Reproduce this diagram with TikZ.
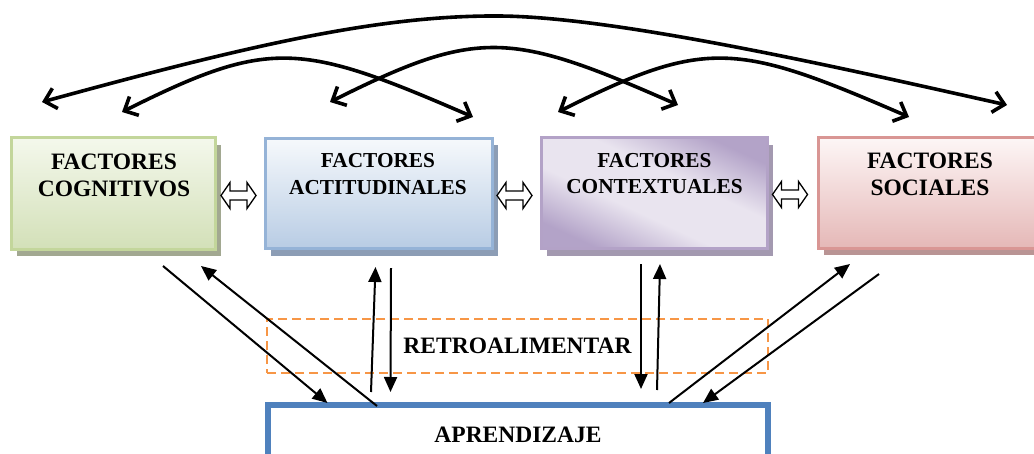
\documentclass[tikz,border=0pt]{standalone}
\usepackage{fontspec}
\setmainfont{Liberation Serif}
\usetikzlibrary{arrows.meta,shadows}

% box colours
\definecolor{grnline}{HTML}{C3D69B}
\definecolor{grntop}{HTML}{F4F8EC}
\definecolor{grnbot}{HTML}{D3E0B8}
\definecolor{grnshadow}{HTML}{A2A891}
\definecolor{bluline}{HTML}{95B3D7}
\definecolor{blutop}{HTML}{F6F9FC}
\definecolor{blubot}{HTML}{B8CCE4}
\definecolor{blushadow}{HTML}{8C9DB5}
\definecolor{purline}{HTML}{B3A2C7}
\definecolor{purdark}{HTML}{B3A3C8}
\definecolor{purlight}{HTML}{E9E4EF}
\definecolor{purshadow}{HTML}{A399B0}
\definecolor{redline}{HTML}{D99694}
\definecolor{redtop}{HTML}{FDF6F6}
\definecolor{redbot}{HTML}{E5B8B7}
\definecolor{redshadow}{HTML}{B99494}
\definecolor{orangedash}{HTML}{F79646}
\definecolor{aprblue}{HTML}{4F81BD}

% diagonal band shading for the contextual box
\pgfdeclareverticalshading{purband}{100bp}{%
  color(0bp)=(purdark); color(25bp)=(purdark); color(42bp)=(purlight);
  color(58bp)=(purlight); color(75bp)=(purdark); color(100bp)=(purdark)}

\tikzset{
  factorbox/.style={draw, rectangle, line width=3pt, inner sep=0pt},
  boxshadow/.style={drop shadow={shadow xshift=5.5pt, shadow yshift=-7pt, fill=#1, opacity=1}},
  bigtext/.style={font=\fontsize{23.5}{27}\selectfont\bfseries, align=center, inner sep=0pt},
  smalltext/.style={font=\fontsize{21.3}{26.5}\selectfont\bfseries, align=center, inner sep=0pt},
  curvearrow/.style={line width=3.6pt, line cap=round,
    {Straight Barb[length=11pt,width=21pt]}-{Straight Barb[length=11pt,width=21pt]}},
  linkarrow/.style={line width=2pt, -{Triangle[length=15pt,width=13pt]}},
  dblarrow/.pic={
    \draw[line width=1.3pt, fill=white, line join=miter]
      (-17.5,0) -- (-8.5,-13) -- (-8.5,-4.5) -- (8.5,-4.5) -- (8.5,-13) -- (17.5,0)
      -- (8.5,13) -- (8.5,4.5) -- (-8.5,4.5) -- (-8.5,13) -- cycle;
  }
}

\begin{document}
\begin{tikzpicture}[x=1pt, y=-1pt]
  \useasboundingbox (0,0) rectangle (1034,453);
  \clip (0,0) rectangle (1034,453);

  % the four factor boxes
  \node[factorbox, boxshadow=grnshadow, draw=grnline, top color=grntop, bottom color=grnbot,
        minimum width=203.5, minimum height=111.5] (cog) at (113.25,193.25) {};
  \node[factorbox, boxshadow=blushadow, draw=bluline, top color=blutop, bottom color=blubot,
        minimum width=227.5, minimum height=110.5] (act) at (378.75,193.5) {};
  \node[factorbox, boxshadow=purshadow, draw=purline, shading=purband, shading angle=-25,
        minimum width=226, minimum height=111] (ctx) at (654,193) {};
  \node[factorbox, boxshadow=redshadow, draw=redline, top color=redtop, bottom color=redbot,
        minimum width=224.5, minimum height=110.5] (soc) at (930.75,192.75) {};

  \node[bigtext]   (cogt) at (114,175.7) {FACTORES\\COGNITIVOS};
  \node[smalltext] (actt) at (378,174)   {FACTORES\\ACTITUDINALES};
  \node[smalltext] (ctxt) at (654.5,173.5) {FACTORES\\CONTEXTUALES};
  \node[bigtext]   (soct) at (930,174.5) {FACTORES\\SOCIALES};

  % hollow double arrows between neighbouring boxes
  \pic (dbl1) at (238.5,195.5) {dblarrow};
  \pic (dbl2) at (514.5,195.5) {dblarrow};
  \pic (dbl3) at (790,194.5) {dblarrow};

  % feedback band and learning box
  \node[draw=orangedash, line width=2pt, dash pattern=on 9pt off 5pt,
        minimum width=501, minimum height=54, inner sep=0pt,
        font=\fontsize{23.5}{27}\selectfont\bfseries] (retro) at (517.5,346) {RETROALIMENTAR};
  \node[draw=aprblue, line width=6pt, fill=white,
        minimum width=500, minimum height=59, inner sep=0pt,
        font=\fontsize{23.5}{27}\selectfont\bfseries] (apr) at (518,434.5) {APRENDIZAJE};

  % end points of the links between the boxes and the learning box
  \coordinate (l1a) at (163,266);   \coordinate (l1b) at (327.5,403);
  \coordinate (l2a) at (377,406);   \coordinate (l2b) at (201,266);
  \coordinate (l3a) at (371,392);   \coordinate (l3b) at (375.5,267);
  \coordinate (l4a) at (391,268);   \coordinate (l4b) at (390.5,392);
  \coordinate (l5a) at (641,264);   \coordinate (l5b) at (641,389);
  \coordinate (l6a) at (657,390);   \coordinate (l6b) at (660,264);
  \coordinate (l7a) at (669,403);   \coordinate (l7b) at (850,264);
  \coordinate (l8a) at (879,274);   \coordinate (l8b) at (703,403);

  \draw[linkarrow] (l1a) -- (l1b);
  \draw[linkarrow] (l2a) -- (l2b);
  \draw[linkarrow] (l3a) -- (l3b);
  \draw[linkarrow] (l4a) -- (l4b);
  \draw[linkarrow] (l5a) -- (l5b);
  \draw[linkarrow] (l6a) -- (l6b);
  \draw[linkarrow] (l7a) -- (l7b);
  \draw[linkarrow] (l8a) -- (l8b);

  % curved two-way arrows above the boxes
  \coordinate (aL) at (42,102);   \coordinate (aR) at (1007,105);
  \coordinate (bL) at (122,112);  \coordinate (bR) at (473,117);
  \coordinate (cL) at (330,102);  \coordinate (cR) at (678,105);
  \coordinate (dL) at (558,112);  \coordinate (dR) at (909,117);

  \draw[curvearrow] (aL) .. controls (250,45) and (380,15) .. (500,16)
                         .. controls (620,17) and (850,70) .. (aR);
  \draw[curvearrow] (bL) .. controls (270,38) and (300,42) .. (bR);
  \draw[curvearrow] (cL) .. controls (478,28) and (510,31) .. (cR);
  \draw[curvearrow] (dL) .. controls (706,38) and (736,42) .. (dR);
\end{tikzpicture}
\end{document}
